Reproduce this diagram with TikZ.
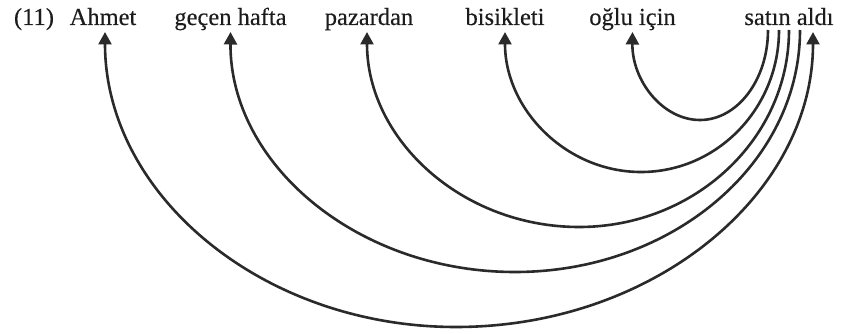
\documentclass[tikz,border=0pt]{standalone}
\usepackage{fontspec}
\setmainfont{Liberation Serif}[FakeBold=0.3]
\usetikzlibrary{arrows.meta,calc}
\definecolor{ink}{HTML}{1C1C1C}
\definecolor{lineink}{HTML}{2A2A2A}
\begin{document}
\begin{tikzpicture}[x=1pt,y=-1pt,
  word/.style={anchor=base,inner sep=0pt,text=ink,font=\fontsize{24.5}{29}\selectfont},
  dep/.style={draw=lineink,line width=2.6pt,-{Triangle[length=12.5pt,width=13pt]}},
  bidep/.style={draw=lineink,line width=2.6pt,{Triangle[length=12.5pt,width=13pt]}-{Triangle[length=12.5pt,width=13pt]}}]
\useasboundingbox (0,0) rectangle (841,334);
\node[word] (ex) at (34,25) {(11)};
\node[word] (ahmet) at (103,25) {Ahmet};
\node[word] (gecen) at (230.5,25) {geçen hafta};
\node[word] (pazardan) at (369,25) {pazardan};
\node[word] (bisikleti) at (505,25) {bisikleti};
\node[word] (oglu) at (632.5,25) {oğlu için};
\node[word] (satin) at (789,25) {satın aldı};
% start points under "satın aldı"
\coordinate (s1) at ([xshift=-21pt,yshift=-5pt]satin.base);
\coordinate (s2) at ([xshift=-10pt,yshift=-5pt]satin.base);
\coordinate (s3) at ([xshift=0pt,yshift=-5pt]satin.base);
\coordinate (s4) at ([xshift=11pt,yshift=-5pt]satin.base);
\coordinate (s5) at ([xshift=24pt,yshift=-7pt]satin.base);
% end points under the dependents
\coordinate (e1) at ([yshift=-7pt]oglu.base);
\coordinate (e2) at ([yshift=-7pt]bisikleti.base);
\coordinate (e3) at ([xshift=-2pt,yshift=-7pt]pazardan.base);
\coordinate (e4) at ([yshift=-7pt]gecen.base);
\coordinate (e5) at ([xshift=2pt,yshift=-7pt]ahmet.base);
\draw[dep] (s1) .. controls (768,79.7) and (737.5,120) .. (700,120)
  .. controls (662.5,120) and (632,80.6) .. (e1);
\draw[dep] (s2) .. controls (779,108.4) and (717.2,172) .. (641,172)
  .. controls (565.9,172) and (505,109.3) .. (e2);
\draw[dep] (s3) .. controls (789,138.7) and (694.9,227) .. (579,227)
  .. controls (462.0,227) and (367,139.6) .. (e3);
\draw[dep] (s4) .. controls (800,163.6) and (672.3,272) .. (515,272)
  .. controls (357.7,272) and (230,164.5) .. (e4);
\draw[bidep] (s5) .. controls (813,194.8) and (653.1,327) .. (456,327)
  .. controls (262.2,327) and (105,194.8) .. (e5);
\end{tikzpicture}
\end{document}
